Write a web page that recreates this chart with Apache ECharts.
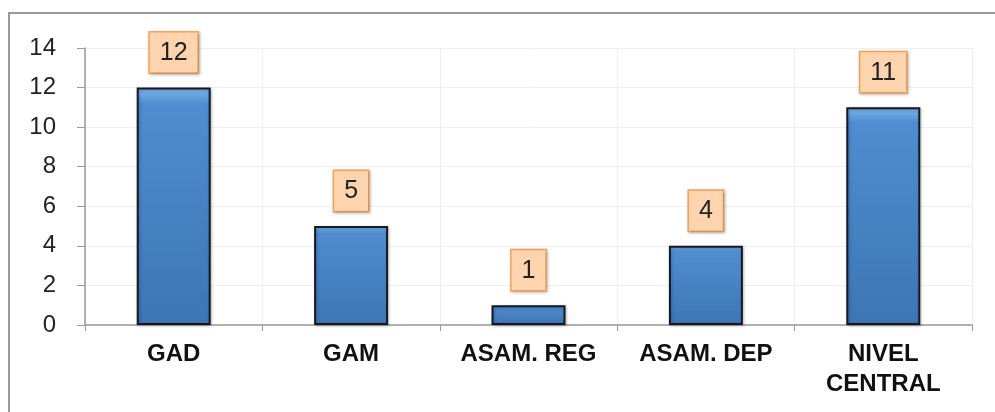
<!DOCTYPE html>
<html>
<head>
<meta charset="utf-8">
<script src="https://cdn.jsdelivr.net/npm/echarts@6/dist/echarts.min.js"></script>
<style>
  html, body { margin: 0; padding: 0; background: #fff; }
  #frame {
    position: absolute; left: 8px; top: 12px; width: 987px; height: 400px;
    border-top: 2px solid #999; border-left: 2px solid #999;
  }
  #chart { position: absolute; left: 0; top: 0; width: 995px; height: 412px; }
</style>
</head>
<body>
<div id="frame"></div>
<div id="chart"></div>
<script>
// categorías y valores
const categories = ['GAD', 'GAM', 'ASAM. REG', 'ASAM. DEP', 'NIVEL\nCENTRAL']
const values = [12, 5, 1, 4, 11]
const yTicks = [0, 2, 4, 6, 8, 10, 12, 14]

const chart = echarts.init(document.getElementById('chart'))

const option = {
  backgroundColor: 'transparent',
  animation: false,
  grid: { left: 85, right: 23, top: 48, bottom: 87 },
  xAxis: {
    type: 'category',
    data: categories,
    axisLine: { lineStyle: { color: '#999', width: 1.5 } },
    axisTick: { show: true, length: 6, lineStyle: { color: '#999' } },
    axisLabel: {
      color: '#111', fontSize: 24, fontWeight: 'bold',
      fontFamily: 'Liberation Sans, Arial, sans-serif',
      margin: 14, lineHeight: 30
    },
    splitLine: { show: true, lineStyle: { color: '#eee' } }
  },
  yAxis: {
    type: 'value',
    min: yTicks[0],
    max: yTicks[yTicks.length - 1],
    interval: 2,
    axisLine: { show: true, lineStyle: { color: '#999', width: 1.5 } },
    axisTick: { show: true, length: 8, lineStyle: { color: '#999' } },
    axisLabel: {
      color: '#222', fontSize: 24,
      fontFamily: 'Liberation Sans, Arial, sans-serif',
      margin: 29
    },
    splitLine: { lineStyle: { color: '#eee' } }
  },
  series: [{
    type: 'bar',
    data: values,
    barWidth: 74,
    itemStyle: {
      color: new echarts.graphic.LinearGradient(0, 0, 0, 1, [
        { offset: 0, color: '#7db6ea' },
        { offset: 0.07, color: '#4f8dd0' },
        { offset: 1, color: '#3d76b5' }
      ]),
      borderColor: '#151a22',
      borderWidth: 2,
      shadowColor: 'rgba(0,0,0,0.25)',
      shadowBlur: 3,
      shadowOffsetX: 1,
      shadowOffsetY: 1
    },
    label: {
      show: true,
      position: 'top',
      distance: 15,
      color: '#222',
      fontSize: 25,
      fontFamily: 'Liberation Sans, Arial, sans-serif',
      backgroundColor: '#fdd4ad',
      borderColor: '#f3a55c',
      borderWidth: 1.5,
      padding: [8, 10, 7, 10],
      shadowColor: 'rgba(0,0,0,0.25)',
      shadowBlur: 3,
      shadowOffsetX: 1,
      shadowOffsetY: 1
    }
  }]
}

chart.setOption(option)
</script>
</body>
</html>
